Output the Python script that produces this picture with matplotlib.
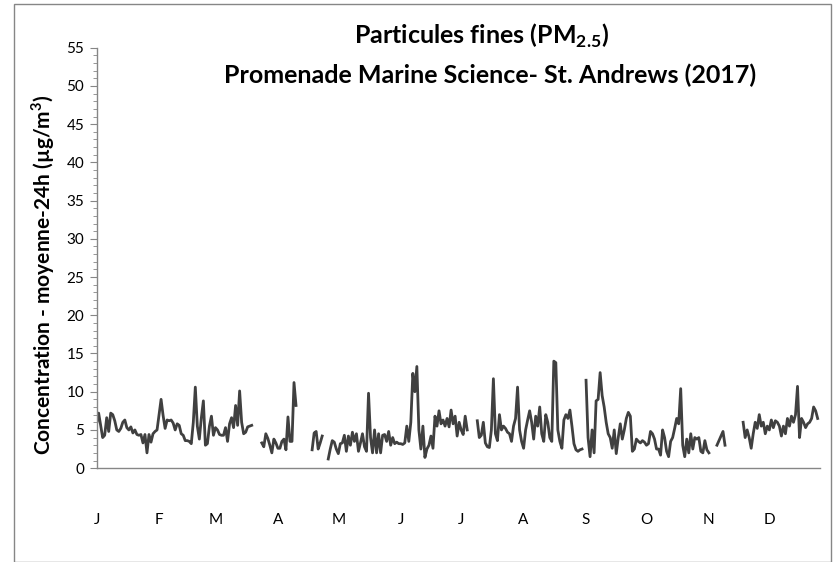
import numpy as np
import matplotlib
matplotlib.use("Agg")
import matplotlib.pyplot as plt
from matplotlib.patches import Rectangle

plt.rcParams['font.family'] = ['Lato', 'DejaVu Sans']

# daily 24h means of PM2.5 (ug/m3), None = no data
jan = [5.8, 7.2, 5.6, 4.0, 4.3, 6.6, 4.8, 7.2, 7.0, 6.2, 5.0, 4.8, 5.2, 6.0, 6.3, 5.3,
       5.0, 5.4, 4.6, 5.0, 4.4, 4.3, 4.4, 3.3, 4.4, 2.0, 4.4, 3.4, 4.5, 4.8, 5.0]
feb = [7.0, 9.0, 6.9, 5.2, 6.3, 6.2, 6.3, 5.9, 5.0, 5.8, 5.6, 4.5, 4.3, 3.6, 3.6, 3.5,
       3.2, 6.0, 10.6, 5.5, 3.8, 6.6, 8.8, 3.0, 3.2, 5.5, 6.8, 4.3]
mar = [5.3, 5.0, 4.4, 4.3, 4.3, 5.3, 3.5, 5.8, 6.6, 5.3, 8.2, 5.6, 10.1, 6.0, 4.5, 4.7,
       5.4, 5.5, 5.6, None, None, None, None, 3.3, 2.8, 4.5, 3.9, 3.0, 2.0, 3.8, 3.3]
apr = [2.6, 2.6, 3.5, 3.8, 2.4, 6.7, 3.5, 3.5, 11.2, 8.2, None, None, None, None, None,
       None, None, 2.4, 4.6, 4.8, 2.5, 3.3, 4.2, None, None, 1.2, 2.5, 3.6, 3.4, 2.5]
may = [1.9, 3.2, 3.3, 4.3, 2.2, 4.2, 3.0, 4.7, 3.5, 4.5, 2.2, 3.3, 4.5, 2.8, 2.2, 9.8,
       4.0, 2.0, 5.0, 2.0, 4.5, 2.0, 4.3, 4.4, 3.5, 4.8, 3.0, 4.0, 3.2, 3.4, 3.2]
jun = [3.2, 3.1, 3.3, 5.5, 3.5, 6.0, 12.4, 10.0, 13.3, 5.0, 2.5, 5.5, 1.4, 2.5, 3.0,
       4.2, 2.6, 6.8, 5.5, 7.5, 5.8, 6.3, 5.5, 6.5, 5.4, 7.6, 5.8, 6.8, 4.2, 6.0]
jul = [5.0, 4.4, 6.8, 5.0, None, None, None, None, 6.2, 4.0, 4.3, 6.0, 3.3, 2.8, 2.7,
       5.0, 11.7, 4.5, 3.6, 7.0, 5.0, 5.5, 5.2, 4.7, 4.5, 3.5, 5.5, 6.5, 10.6, 5.0, 3.5]
aug = [2.6, 5.0, 6.3, 7.5, 6.0, 3.8, 6.8, 5.5, 8.0, 4.5, 3.5, 7.0, 6.0, 4.0, 3.5, 14.0,
       13.8, 5.0, 3.5, 2.6, 6.3, 7.0, 6.5, 7.6, 5.5, 3.2, 2.4, 2.2, 2.4, 2.5, None]
sep = [11.5, 4.0, 1.5, 5.0, 2.0, 8.8, 9.0, 12.5, 9.5, 8.0, 6.0, 4.5, 4.0, 2.6, 5.0,
       1.9, 4.0, 5.8, 3.8, 5.0, 6.5, 7.3, 6.8, 2.2, 2.5, 3.8, 3.5, 3.3, 3.6, 3.4]
oct_ = [3.0, 3.2, 4.8, 4.5, 3.8, 2.5, 2.5, 1.7, 5.0, 4.0, 2.2, 1.5, 3.5, 4.0, 5.2, 6.5,
        5.8, 10.4, 3.0, 1.5, 3.8, 2.0, 4.5, 2.5, 4.0, 3.8, 4.0, 2.2, 2.0, 3.6, 2.4]
nov = [2.0, None, None, None, 3.0, 3.6, 4.2, 4.8, 3.0, None, None, None, None, None,
       None, None, None, 6.0, 4.0, 5.0, 4.0, 2.6, 4.5, 6.0, 5.2, 7.0, 5.5, 6.0, 4.5, 5.5]
dec = [5.0, 6.3, 5.3, 6.2, 6.0, 5.5, 4.2, 5.5, 4.5, 6.5, 5.5, 6.8, 6.0, 7.0, 10.7, 4.0,
       6.5, 6.0, 5.3, 5.8, 6.0, 6.5, 8.0, 7.5, 6.5]

month_labels = ['J', 'F', 'M', 'A', 'M', 'J', 'J', 'A', 'S', 'O', 'N', 'D']
month_start = [1, 32, 60, 91, 121, 152, 182, 213, 244, 274, 305, 335]

values = np.array(jan + feb + mar + apr + may + jun + jul + aug + sep + oct_ + nov + dec,
                  dtype=float)
days = np.arange(1, len(values) + 1)

fig = plt.figure(figsize=(8.33, 5.62), dpi=100)
ax = fig.add_axes([0.116, 0.167, 0.868, 0.748])

ax.plot(days, values, color='#404040', lw=2.0)

ax.set_xlim(1, 360)
ax.set_ylim(0, 55)
ax.set_yticks(np.arange(0, 56, 5))
ax.set_yticks(np.arange(0, 56, 1), minor=True)
ax.set_xticks(month_start)
ax.set_xticklabels(month_labels)
ax.tick_params(axis='x', length=0, pad=32, labelsize=11, colors='black')
ax.tick_params(axis='y', which='major', length=5, color='#868686', labelsize=11, pad=4)
ax.tick_params(axis='y', which='minor', length=3, color='#868686')

for s in ['top', 'right']:
    ax.spines[s].set_visible(False)
for s in ['left', 'bottom']:
    ax.spines[s].set_color('#868686')
    ax.spines[s].set_linewidth(1.0)

ax.set_ylabel('Concentration - moyenne-24h (µg/m$^\\mathregular{3}$)', fontsize=15,
              fontweight='bold')
ax.yaxis.set_label_coords(-0.055, 0.46)

fig.text(0.578, 0.937, 'Particules fines (PM$_\\mathregular{2.5}$)', ha='center', va='center',
         fontsize=18, fontweight='bold')
fig.text(0.588, 0.866, 'Promenade Marine Science- St. Andrews (2017)', ha='center', va='center',
         fontsize=18, fontweight='bold')

fig.patches.append(Rectangle((0.017, 0.0), 0.98, 0.993, transform=fig.transFigure,
                             fill=False, edgecolor='#868686', lw=1.0))

fig.savefig('out.png', dpi=100)
